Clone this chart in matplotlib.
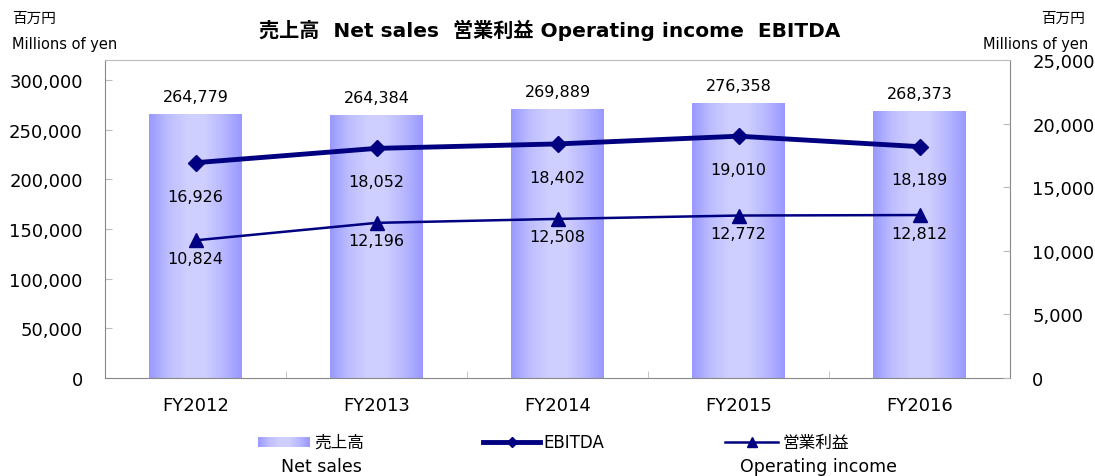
import matplotlib
matplotlib.use('Agg')
import matplotlib.pyplot as plt
from matplotlib.lines import Line2D
from matplotlib.ticker import FuncFormatter
import numpy as np

plt.rcParams['font.family'] = ['DejaVu Sans', 'Noto Sans CJK JP']

years = ['FY2012', 'FY2013', 'FY2014', 'FY2015', 'FY2016']
net_sales = [264779, 264384, 269889, 276358, 268373]
ebitda = [16926, 18052, 18402, 19010, 18189]
op_income = [10824, 12196, 12508, 12772, 12812]

navy = '#000080'
frame = '#888888'

# horizontal gradient for the bars (edge -> light centre -> edge)
grad = np.array([[0.60, 0.60, 1.0], [0.74, 0.74, 1.0], [0.81, 0.81, 1.0],
                 [0.81, 0.81, 1.0], [0.72, 0.72, 1.0], [0.60, 0.60, 1.0]])
xs = np.linspace(0, 1, 6)
fine = np.linspace(0, 1, 100)
gimg = np.stack([np.interp(fine, xs, grad[:, c]) for c in range(3)], axis=-1)[None, :, :]

fig = plt.figure(figsize=(10.95, 4.77), dpi=100)
ax = fig.add_axes([105/1095, 1-379/477, 905/1095, 318/477])
x = np.arange(len(years))

bars = ax.bar(x, net_sales, width=0.51, color='none', edgecolor='none')
for b in bars:
    x0 = b.get_x()
    ax.imshow(gimg, extent=(x0, x0 + b.get_width(), 0, b.get_height()),
              aspect='auto', zorder=1, interpolation='bilinear')
for xi, v in zip(x, net_sales):
    ax.annotate(f'{v:,}', (xi, v), xytext=(0, 13), textcoords='offset points',
                ha='center', va='center', fontsize=11.5)

ax.set_xlim(-0.5, 4.5)
ax.set_ylim(0, 320000)
ax.set_yticks(range(0, 300001, 50000))
ax.yaxis.set_major_formatter(FuncFormatter(lambda v, p: f'{int(v):,}'))
ax.set_xticks(x)
ax.set_xticklabels(years)
ax.set_xticks(np.arange(-0.5, 5, 1), minor=True)
ax.tick_params(axis='x', which='major', length=0, pad=13, labelsize=13)
ax.tick_params(axis='x', which='minor', direction='in', length=5, color='#bbbbbb')
ax.tick_params(axis='y', direction='in', length=5, color='#bbbbbb', pad=16, labelsize=13)
for s in ax.spines.values():
    s.set_color(frame)
ax.spines['top'].set_color('#bbbbbb')

ax2 = ax.twinx()
ax2.plot(x, ebitda, color=navy, lw=3.5, marker='D', ms=8)
ax2.plot(x, op_income, color=navy, lw=1.8, marker='^', ms=10)
for xi, v in zip(x, ebitda):
    ax2.annotate(f'{v:,}', (xi, v), xytext=(0, -24), textcoords='offset points',
                 ha='center', va='center', fontsize=11.5)
for xi, v in zip(x, op_income):
    ax2.annotate(f'{v:,}', (xi, v), xytext=(0, -13), textcoords='offset points',
                 ha='center', va='center', fontsize=11.5)
ax2.set_ylim(0, 25000)
ax2.set_yticks(range(0, 25001, 5000))
ax2.yaxis.set_major_formatter(FuncFormatter(lambda v, p: f'{int(v):,}'))
ax2.tick_params(axis='y', direction='in', length=5, color='#bbbbbb', pad=16, labelsize=13)
for s in ax2.spines.values():
    s.set_visible(False)
ax.spines['right'].set_color(frame)

# titles and unit labels
fig.text(550/1095, 1-30/477, '売上高  Net sales  営業利益 Operating income  EBITDA',
         ha='center', va='center', fontsize=14.5, fontweight='bold')
fig.text(12/1095, 1-18/477, '百万円', ha='left', va='center', fontsize=10.5)
fig.text(12/1095, 1-45/477, 'Millions of yen', ha='left', va='center', fontsize=10.5)
fig.text(1085/1095, 1-18/477, '百万円', ha='right', va='center', fontsize=10.5)
fig.text(1088/1095, 1-45/477, 'Millions of yen', ha='right', va='center', fontsize=10.5)

# legend
lax = fig.add_axes([258/1095, 1-448/477, 52/1095, 10/477])
lax.imshow(gimg, aspect='auto', extent=(0, 1, 0, 1))
lax.axis('off')
ly = 1-443/477
fig.text(314/1095, ly, '売上高', ha='left', va='center', fontsize=12)
fig.text(321/1095, 1-467/477, 'Net sales', ha='center', va='center', fontsize=12.5)
fig.add_artist(Line2D([483/1095, 540/1095], [ly, ly], color=navy, lw=3.5))
fig.add_artist(Line2D([512/1095], [ly], color=navy, marker='D', ms=5))
fig.text(543/1095, ly, 'EBITDA', ha='left', va='center', fontsize=12)
fig.add_artist(Line2D([725/1095, 778/1095], [ly, ly], color=navy, lw=1.8))
fig.add_artist(Line2D([752/1095], [ly], color=navy, marker='^', ms=7))
fig.text(782/1095, ly, '営業利益', ha='left', va='center', fontsize=12)
fig.text(819/1095, 1-467/477, 'Operating income', ha='center', va='center', fontsize=12.5)

fig.savefig('out.png', dpi=100)
